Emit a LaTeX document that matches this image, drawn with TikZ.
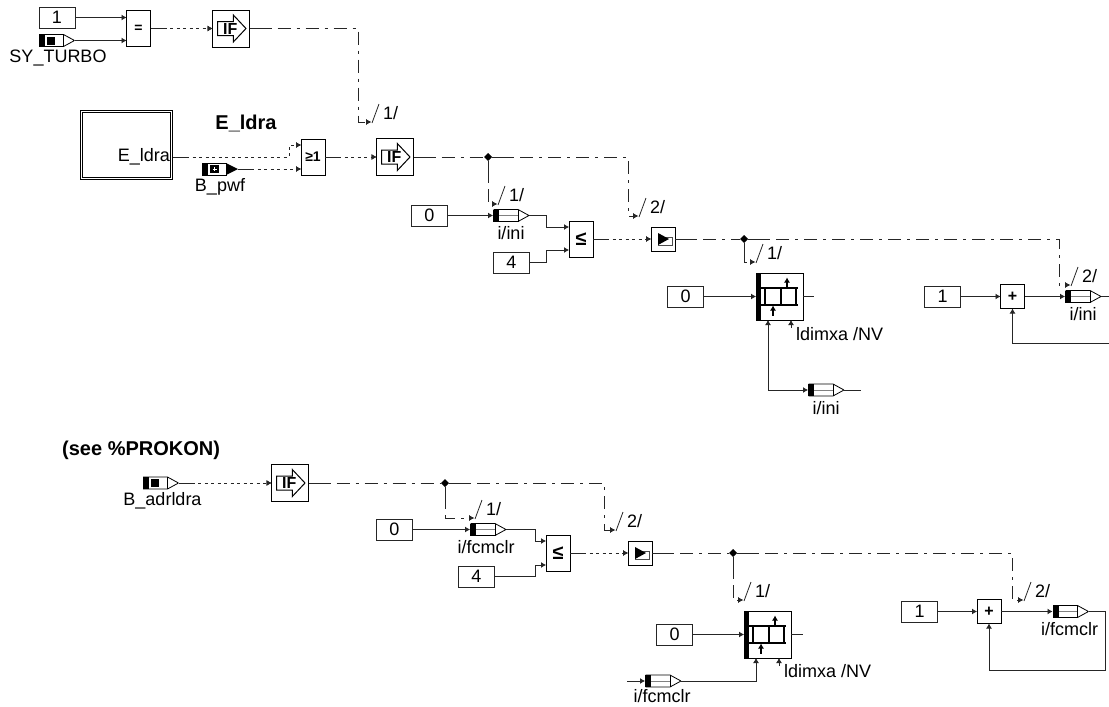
\documentclass[tikz,border=0pt]{standalone}
\usepackage{fontspec}
\setmainfont{Liberation Sans}
\usetikzlibrary{arrows.meta,calc,shapes.geometric}
\tikzset{
  wire/.style={line width=0.9pt,black!85},
  busline/.style={wire,dash pattern=on 13pt off 6pt on 3pt off 6pt,postaction={draw,dash pattern=on 22pt off 5000pt}},
  dotline/.style={wire,dash pattern=on 3pt off 3.5pt,postaction={draw,dash pattern=on 14pt off 5000pt}},
  sigtext/.style={font=\fontsize{18}{20}\selectfont,inner sep=0pt},
  titletext/.style={font=\bfseries\fontsize{20}{22}\selectfont,inner sep=0pt},
  iftext/.style={font=\bfseries\fontsize{16}{16}\selectfont,inner sep=0pt,xshift=-0.7pt},
  constbox/.style={draw,line width=1pt,black!85,text=black,minimum width=36pt,minimum height=21pt,inner sep=0pt,outer sep=0pt,sigtext},
  opbox/.style={draw,line width=1pt,minimum width=24pt,minimum height=36pt,inner sep=0pt,outer sep=0pt,font=\bfseries\fontsize{14}{16}\selectfont},
  sumbox/.style={opbox,minimum height=24pt,font=\bfseries\fontsize{16}{16}\selectfont},
  cmpbox/.style={opbox,font=\bfseries\fontsize{20}{20}\selectfont},
  ifbox/.style={draw,line width=1pt,minimum size=37pt,inner sep=0pt,outer sep=0pt,label={[iftext]center:IF},
    path picture={\begin{scope}[shift={(path picture bounding box.center)}]
      \draw[line width=1pt] (-13.5,-7)--(2.3,-7)--(2.3,-13.5)--(15,0)--(2.3,13.5)--(2.3,7)--(-13.5,7)--cycle;
    \end{scope}}},
  playbox/.style={sumbox,
    path picture={\begin{scope}[shift={(path picture bounding box.center)}]
      \draw[line width=0.8pt,black!70] (-5,0)--(-5,6.5)--(9.5,6.5)--(9.5,-1.5)--(3,-1.5);
      \fill (-5,-6)--(6,0)--(-5,6)--cycle;
    \end{scope}}},
  msgbox/.style={minimum width=36pt,minimum height=13pt,inner sep=0pt,outer sep=0pt},
  msgline/.style={msgbox,
    path picture={\begin{scope}[shift={(path picture bounding box.center)}]
      \draw[line width=0.8pt,fill=white] (-17,-6)--(7,-6)--(18,0)--(7,6)--(-17,6)--cycle;
      \draw[line width=0.6pt,black!50] (-12,0)--(7,0);
      \draw[line width=0.8pt] (7,-6)--(7,6);
      \fill (-18,-6) rectangle (-12,6);
    \end{scope}}},
  msgsquare/.style={msgbox,
    path picture={\begin{scope}[shift={(path picture bounding box.center)}]
      \draw[line width=0.8pt,fill=white] (-17,-6)--(7,-6)--(18,0)--(7,6)--(-17,6)--cycle;
      \draw[line width=0.8pt] (7,-6)--(7,6);
      \fill (-18,-6) rectangle (-12,6);
      \fill (-10,-4) rectangle (-1.5,4);
    \end{scope}}},
  msgfilled/.style={msgbox,
    path picture={\begin{scope}[shift={(path picture bounding box.center)}]
      \draw[line width=0.8pt] (-18,-6) rectangle (6,6);
      \fill (6,-6)--(18,0)--(6,6)--cycle;
      \fill (-18,-6) rectangle (-12,6);
      \fill (-10,-4) rectangle (-1,4);
      \draw[white,line width=1pt] (-7.5,0)--(-3.5,0) (-5.5,-2)--(-5.5,2);
    \end{scope}}},
  tablebox/.style={draw,line width=1pt,minimum size=47pt,inner sep=0pt,outer sep=0pt,
    path picture={\begin{scope}[shift={(path picture bounding box.center)}]
      \fill (-23.5,-23.5) rectangle (-19,23.5);
      \draw[line width=1.3pt] (-19,-8.5)--(18.5,-8.5) (-19,8.5)--(18.5,8.5);
      \draw[line width=1.3pt] (-14.5,-8.5)--(-14.5,8.5) (1.5,-8.5)--(1.5,8.5) (16.5,-8.5)--(16.5,8.5);
      \draw[-{Latex[length=5pt,width=6pt]},line width=1.2pt] (7.5,-8.5)--(7.5,-19);
      \draw[-{Latex[length=5pt,width=6pt]},line width=1.2pt] (-6.5,19)--(-6.5,9);
    \end{scope}}},
  jn/.style={diamond,fill=black,minimum size=8pt,inner sep=0pt,outer sep=0pt}
}
\begin{document}
\begin{tikzpicture}[x=1pt,y=-1pt,>={Latex[length=5pt,width=6pt]}]
  \useasboundingbox (0,0) rectangle (1109,707);

  \node[constbox] (c1) at (57,17.5) {1};
  \node[msgsquare,label={[sigtext,xshift=1.5pt,yshift=-18pt]center:SY\_TURBO}] (turbo) at (56.5,40.5) {};
  \node[opbox] (eq) at (138.5,28.5) {=};
  \node[ifbox] (if1) at (231,28.5) {};
  \draw[wire,->] (c1.east) -- (c1.east -| eq.west);
  \draw[wire,->] (turbo.east) -- (turbo.east -| eq.west);
  \draw[dotline,->] (eq.east) -- (if1.west);

  \node[draw,double,double distance=1.5pt,line width=0.9pt,minimum width=90pt,minimum height=67pt,outer sep=1.5pt] (sub) at (126.5,145) {};
  \node[sigtext,anchor=east] (subport) at (170,157) {E\_ldra};
  \node[titletext] (title) at (246,123) {E\_ldra};
  \node[msgfilled,label={[sigtext,yshift=-18pt]center:B\_pwf}] (pwf) at (220,169) {};
  \node[opbox] (or) at (313,157) {≥1};
  \node[ifbox] (if2) at (395,157) {};
  \draw[dotline,->] (subport -| sub.east) -- (289,157) |- ($(or.west)+(0,-12)$);
  \draw[dotline,->] (pwf.east) -- (pwf.east -| or.west);
  \draw[dotline,->] (or.east) -- (if2.west);

  \foreach \n/\px/\py/\txt in {t1/371/122/1,t2/497/204/1,t3/638/216/2,t4/755/262/1,t5/1070/285/2,
      t6/474/518/1,t7/615/530/2,t8/743/600/1,t9/1023/600/2}{
    \coordinate (\n) at (\px,\py);
    \draw[wire,line width=0.8pt] ($(\n)+(1,1)$) -- ($(\n)+(8,-18)$);
    \node[sigtext,anchor=west] (\n l) at ($(\n)+(12,-9)$) {\txt/};
  }
  \draw[busline,->] (if1.east) -- ++(109,0) |- (t1);

  \node[jn] (j1) at (488,157) {};
  \node[constbox] (c2) at (429.5,215.5) {0};
  \node[msgline,label={[sigtext,yshift=-18pt]center:i/ini}] (ini1) at (511,215.5) {};
  \node[constbox] (c3) at (511.5,262.5) {4};
  \node[cmpbox] (le1) at (581,239) {≤};
  \node[playbox] (en1) at (663,239) {};
  \node[jn] (j2) at (744,239) {};
  \draw[busline] (if2.east) -- (j1.west);
  \draw[busline,->,postaction={draw=none}] (j1.south) |- (t2);
  \draw[busline,->] (j1.east) -- ++(136,0) |- (t3);
  \draw[wire,->] (c2.east) -- (c2.east -| ini1.west);
  \draw[wire,->] (ini1.east) -- ++(17,0) |- ($(le1.west)+(0,-12)$);
  \draw[wire,->] (c3.east) -- ++(17,0) |- ($(le1.west)+(0,11)$);
  \draw[dotline,->] (le1.east) -- (en1.west);
  \draw[busline] (en1.east) -- (j2.west);
  \draw[busline,->,postaction={draw=none}] (j2.south) |- (t4);
  \draw[busline,->] (j2.east) -- ++(311,0) |- (t5);

  \node[tablebox] (tb1) at (779.5,296.5) {};
  \node[constbox] (c4) at (685.5,296.5) {0};
  \node[sigtext,anchor=west] (dim1) at (796,334) {ldimxa /NV};
  \node[msgline,label={[sigtext,yshift=-18pt]center:i/ini}] (ini2) at (826,390) {};
  \coordinate (e1) at (861,390);
  \coordinate (e2) at (814,296.5);
  \draw[wire,->] (c4.east) -- (tb1.west);
  \draw[wire] (tb1.east) -- (e2);
  \draw[wire,->] (ini2.west) ++(-40,0) coordinate (k1) -- (ini2.west);
  \draw[wire,->] (k1) -- ($(tb1.south)+(-11.5,0)$);
  \draw[wire] (ini2.east) -- (e1);
  \draw[wire,->] ($(tb1.south)+(11.5,8)$) -- ($(tb1.south)+(11.5,0)$);

  \node[constbox] (c5) at (942.5,296.5) {1};
  \node[sumbox] (add1) at (1012.5,296.5) {+};
  \node[msgline,label={[sigtext,yshift=-18pt]center:i/ini}] (ini3) at (1083,296.5) {};
  \coordinate (e3) at (1109,296.5);
  \coordinate (e4) at (1109,343);
  \draw[wire,->] (c5.east) -- (add1.west);
  \draw[wire,->] (add1.east) -- (ini3.west);
  \draw[wire] (ini3.east) -- (e3);
  \draw[wire,->] (e4) -| (add1.south);

  \node[titletext,anchor=west] (see) at (62,450) {(see \%PROKON)};
  \node[msgsquare,label={[sigtext,xshift=2pt,yshift=-18pt]center:B\_adrldra}] (adr) at (160.5,483) {};
  \node[ifbox] (if3) at (290,483) {};
  \node[jn] (j3) at (445,483) {};
  \draw[dotline,->] (adr.east) -- (if3.west);
  \draw[busline] (if3.east) -- (j3.west);
  \draw[busline,->,postaction={draw=none}] (j3.south) |- (t6);
  \draw[busline,->] (j3.east) -- ++(155,0) |- (t7);

  \node[constbox] (c6) at (394.5,529.5) {0};
  \node[msgline,label={[sigtext,xshift=-2pt,yshift=-18pt]center:i/fcmclr}] (fc1) at (488,529.5) {};
  \node[constbox] (c7) at (476.5,576.5) {4};
  \node[cmpbox] (le2) at (558,553) {≤};
  \node[playbox] (en2) at (640,553) {};
  \node[jn] (j4) at (733,553) {};
  \draw[wire,->] (c6.east) -- (c6.east -| fc1.west);
  \draw[wire,->] (fc1.east) -- ++(29,0) |- ($(le2.west)+(0,-12)$);
  \draw[wire,->] (c7.east) -- ++(41,0) |- ($(le2.west)+(0,12)$);
  \draw[dotline,->] (le2.east) -- (en2.west);
  \draw[busline] (en2.east) -- (j4.west);
  \draw[busline,->,postaction={draw=none}] (j4.south) |- (t8);
  \draw[busline,->] (j4.east) -- ++(275,0) |- (t9);

  \node[tablebox] (tb2) at (767.5,634.5) {};
  \node[constbox] (c8) at (674.5,634.5) {0};
  \node[sigtext,anchor=west] (dim2) at (784,671) {ldimxa /NV};
  \node[msgline,label={[sigtext,xshift=-1pt,yshift=-15.5pt]center:i/fcmclr}] (fc2) at (663,681) {};
  \coordinate (s1) at (627,681);
  \coordinate (e5) at (803,634.5);
  \draw[wire,->] (c8.east) -- (tb2.west);
  \draw[wire] (tb2.east) -- (e5);
  \draw[wire,->] (s1) -- (fc2.west);
  \draw[wire,->] (fc2.east) -| ($(tb2.south)+(-11.5,0)$);
  \draw[wire,->] ($(tb2.south)+(11.5,8)$) -- ($(tb2.south)+(11.5,0)$);

  \node[constbox] (c9) at (919.5,611.5) {1};
  \node[sumbox] (add2) at (989,611.5) {+};
  \node[msgline,label={[sigtext,xshift=-1pt,yshift=-18pt]center:i/fcmclr}] (fc3) at (1070.5,611.5) {};
  \coordinate (k2) at (1105,670);
  \draw[wire,->] (c9.east) -- (add2.west);
  \draw[wire,->] (add2.east) -- (fc3.west);
  \draw[wire,->] (fc3.east) -| (k2) -| (add2.south);
\end{tikzpicture}
\end{document}
